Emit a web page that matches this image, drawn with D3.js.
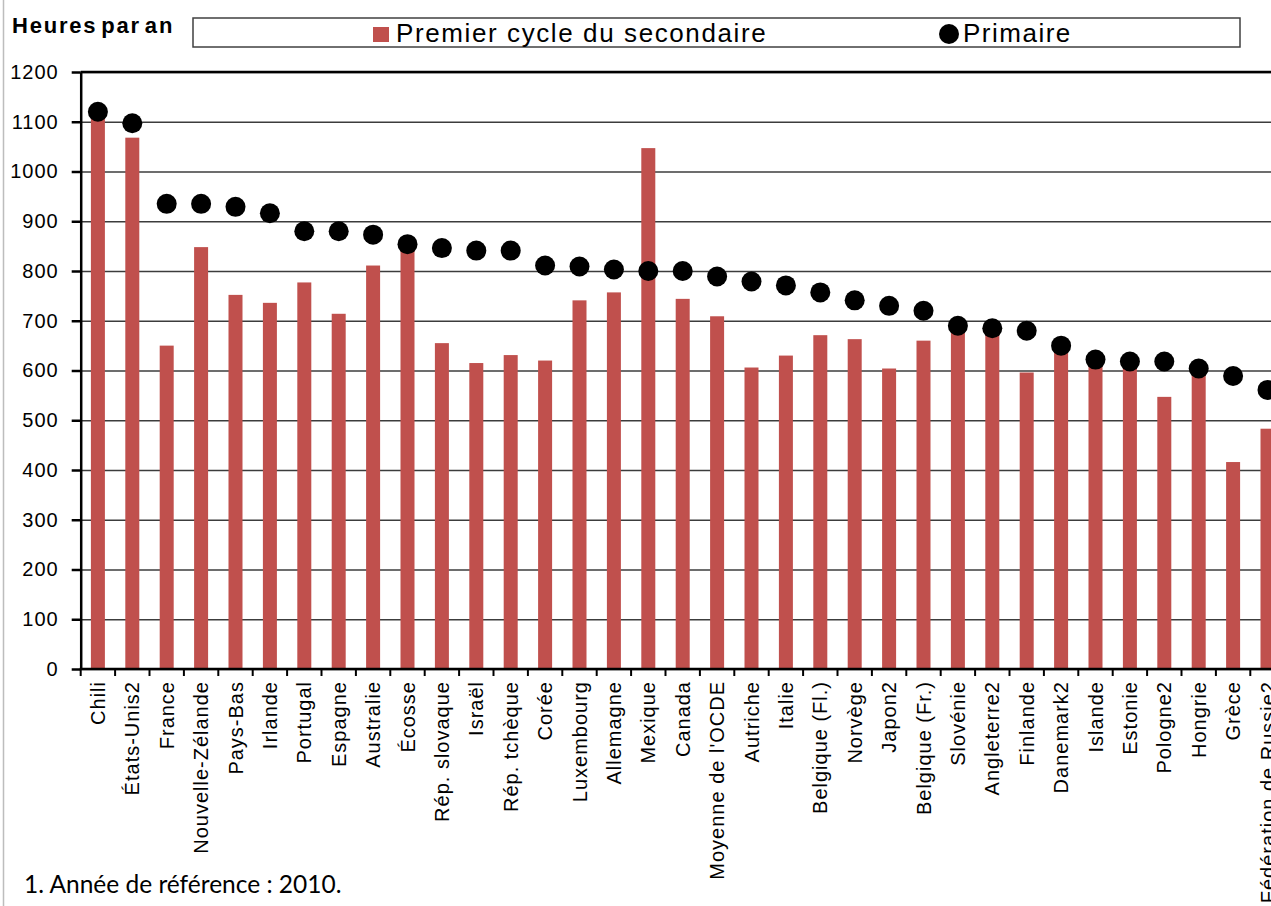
<!DOCTYPE html>
<html>
<head>
<meta charset="utf-8">
<script src="https://cdn.jsdelivr.net/npm/d3@7"></script>
<style>
  body { margin: 0; background: #fff; }
  svg { display: block; }
  text { font-family: "Liberation Sans", Arial, sans-serif; fill: #000; }
</style>
</head>
<body>
<div id="chart"></div>
<script>
// Hours per year, primary vs lower secondary
var countries = ["Chili", "États-Unis2", "France", "Nouvelle-Zélande", "Pays-Bas", "Irlande",
  "Portugal", "Espagne", "Australie", "Écosse", "Rép. slovaque", "Israël", "Rép. tchèque",
  "Corée", "Luxembourg", "Allemagne", "Mexique", "Canada", "Moyenne de l'OCDE", "Autriche",
  "Italie", "Belgique (Fl.)", "Norvège", "Japon2", "Belgique (Fr.)", "Slovénie", "Angleterre2",
  "Finlande", "Danemark2", "Islande", "Estonie", "Pologne2", "Hongrie", "Grèce",
  "Fédération de Russie2"];

var secondaire = [1108, 1068, 650, 848, 752, 736, 777, 714, 811, 850, 655, 615, 631,
  620, 741, 757, 1047, 744, 709, 606, 630, 671, 663, 604, 660, 686, 680,
  596, 640, 610, 610, 547, 600, 416, 483];

var primaire = [1120, 1097, 935, 935, 929, 916, 880, 880, 873, 854, 846, 841, 841,
  811, 809, 803, 800, 800, 789, 779, 771, 757, 741, 730, 720, 690, 685,
  680, 650, 622, 618, 618, 604, 589, 561];

var yTicks = [0, 100, 200, 300, 400, 500, 600, 700, 800, 900, 1000, 1100, 1200];

var width = 1271, height = 906;
var plotLeft = 80.7, plotRight = 1284.7, plotTop = 72, plotBottom = 669;

var svg = d3.select("#chart").append("svg")
    .attr("width", width)
    .attr("height", height);

// outer frame edge on the left
svg.append("line")
    .attr("x1", 3.5).attr("x2", 3.5).attr("y1", 0).attr("y2", height)
    .attr("stroke", "#bdbdbd").attr("stroke-width", 1.5);

var x = d3.scaleBand().domain(countries).range([plotLeft, plotRight]).padding(0);
var y = d3.scaleLinear().domain([0, 1200]).range([plotBottom, plotTop]);

// gridlines
svg.append("g")
    .attr("transform", "translate(" + plotLeft + ",0)")
    .call(d3.axisLeft(y).tickValues(yTicks).tickSize(-(plotRight - plotLeft)).tickFormat(""))
    .call(function(g) {
        g.select(".domain").remove();
        g.selectAll("line").attr("stroke", "#3c3c3c").attr("stroke-width", 1.6);
    });

// top border of plot
svg.append("line")
    .attr("x1", plotLeft).attr("x2", plotRight).attr("y1", y(1200)).attr("y2", y(1200))
    .attr("stroke", "#000").attr("stroke-width", 2.5);

// bars
var barW = 14;
svg.append("g").selectAll("rect")
    .data(countries)
    .enter()
    .append("rect")
    .attr("x", function(d) { return x(d) + x.bandwidth() / 2 - barW / 2; })
    .attr("y", function(d, i) { return y(secondaire[i]); })
    .attr("width", barW)
    .attr("height", function(d, i) { return y(0) - y(secondaire[i]); })
    .attr("fill", "#c0504d");

// y axis
svg.append("g")
    .attr("transform", "translate(" + plotLeft + ",0)")
    .call(d3.axisLeft(y).tickValues(yTicks).tickFormat(d3.format("d"))
        .tickSize(9).tickPadding(13).tickSizeOuter(0))
    .call(function(g) {
        g.select(".domain").attr("stroke", "#000").attr("stroke-width", 2.5);
        g.selectAll("line").attr("stroke", "#000").attr("stroke-width", 2.5);
        g.selectAll("text")
            .style("font-family", "'Liberation Sans', Arial, sans-serif")
            .style("font-size", "20px")
            .style("letter-spacing", "1px")
            .attr("fill", "#000");
    });

// x axis line + ticks on band edges
svg.append("line")
    .attr("x1", plotLeft - 1).attr("x2", plotRight).attr("y1", plotBottom).attr("y2", plotBottom)
    .attr("stroke", "#000").attr("stroke-width", 2.5);

var edges = countries.map(function(d) { return x(d); }).concat([plotRight]);
svg.append("g").selectAll("line")
    .data(edges)
    .enter()
    .append("line")
    .attr("x1", function(d) { return d; })
    .attr("x2", function(d) { return d; })
    .attr("y1", plotBottom)
    .attr("y2", plotBottom + 7)
    .attr("stroke", "#000")
    .attr("stroke-width", 2);

// category labels
svg.append("g").selectAll("text")
    .data(countries)
    .enter()
    .append("text")
    .attr("transform", function(d) {
        return "translate(" + (x(d) + x.bandwidth() / 2) + "," + (plotBottom + 12) + ") rotate(-90)";
    })
    .attr("text-anchor", "end")
    .attr("dy", "0.35em")
    .style("font-size", "20px")
    .style("letter-spacing", "1px")
    .text(function(d) { return d; });

// primary dots
svg.append("g").selectAll("circle")
    .data(countries)
    .enter()
    .append("circle")
    .attr("cx", function(d) { return x(d) + x.bandwidth() / 2; })
    .attr("cy", function(d, i) { return y(primaire[i]); })
    .attr("r", 10)
    .attr("fill", "#000");

// y title
svg.append("text")
    .attr("x", 12).attr("y", 33)
    .style("font-size", "22px")
    .style("font-weight", "bold")
    .style("letter-spacing", "1.8px")
    .style("word-spacing", "-4px")
    .text("Heures par an");

// legend
var legend = svg.append("g");
legend.append("rect")
    .attr("x", 193).attr("y", 18).attr("width", 1047).attr("height", 29)
    .attr("fill", "#fff").attr("stroke", "#404040").attr("stroke-width", 1.5);
legend.append("rect")
    .attr("x", 373).attr("y", 27).attr("width", 16).attr("height", 15)
    .attr("fill", "#c0504d");
legend.append("text")
    .attr("x", 396).attr("y", 42)
    .style("font-size", "26px")
    .style("letter-spacing", "1.6px")
    .text("Premier cycle du secondaire");
legend.append("circle")
    .attr("cx", 949).attr("cy", 34).attr("r", 10)
    .attr("fill", "#000");
legend.append("text")
    .attr("x", 963).attr("y", 42)
    .style("font-size", "26px")
    .style("letter-spacing", "1.5px")
    .text("Primaire");

// footnote
svg.append("text")
    .attr("x", 24).attr("y", 893)
    .style("font-family", "Lato, 'Open Sans', sans-serif")
    .style("font-size", "24.5px")
    .text("1. Année de référence : 2010.");
</script>
</body>
</html>
